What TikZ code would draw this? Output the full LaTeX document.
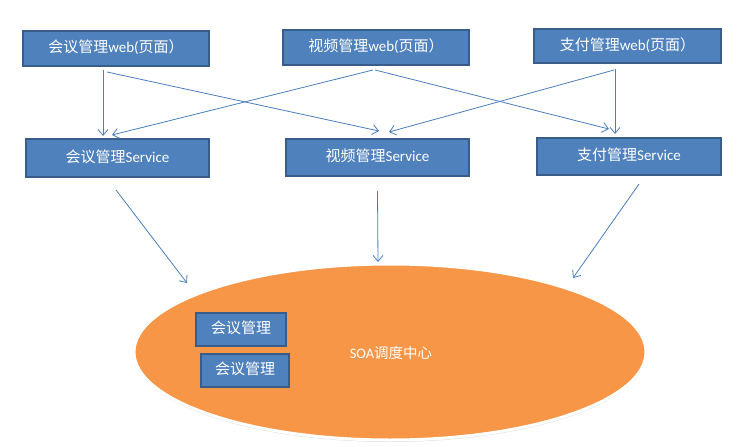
\documentclass[tikz,border=0pt]{standalone}
\usepackage{fontspec}
\setmainfont{Carlito}
\newfontfamily\cjk{Noto Sans CJK SC}
\usetikzlibrary{arrows.meta, shapes.geometric, shadows}

\definecolor{boxblue}{HTML}{4F81BD}
\definecolor{boxline}{HTML}{385D8A}
\definecolor{linkblue}{HTML}{4A7EBB}
\definecolor{soaorange}{HTML}{F79646}

\begin{document}
\begin{tikzpicture} [x=1pt, y=-1pt,
  box/.style = {draw=boxline, fill=boxblue, line width=2pt, text=white,
    font=\fontsize{15}{17}\selectfont, text height=11pt, text depth=3pt,
    inner sep=0pt},
  arr/.style = {draw=linkblue, line width=0.8pt, -{Straight Barb[length=6pt, width=10pt]}}]

\useasboundingbox (0,0) rectangle (756,447);

\node (soa) [ellipse, draw=white, line width=3pt, fill=soaorange, inner sep=0pt,
  minimum width=512pt, minimum height=176pt,
  drop shadow={shadow xshift=0pt, shadow yshift=-2pt, opacity=0.25}] at (390,352) {};
\node (soat) [text=white, font=\fontsize{14.5}{16}\selectfont] at (391,353) {SOA{\cjk 调度中心}};

% web
\node (web1) [box, minimum width=186pt, minimum height=35pt] at (116,48.5) {{\cjk 会议管理}web({\cjk 页面）}};
\node (web2) [box, minimum width=186pt, minimum height=35pt] at (376,47.5) {{\cjk 视频管理}web({\cjk 页面）}};
\node (web3) [box, minimum width=187pt, minimum height=34pt] at (627.5,46) {{\cjk 支付管理}web({\cjk 页面）}};

% service
\node (svc1) [box, minimum width=183pt, minimum height=38pt] at (117.5,158) {{\cjk 会议管理}Service};
\node (svc2) [box, minimum width=183pt, minimum height=37pt] at (377.5,157.5) {{\cjk 视频管理}Service};
\node (svc3) [box, minimum width=184pt, minimum height=37pt] at (629,156.5) {{\cjk 支付管理}Service};

% inside soa
\node (m1) [box, minimum width=90pt, minimum height=33pt] at (241,329) {\cjk 会议管理};
\node (m2) [box, minimum width=88pt, minimum height=33pt] at (245,370.5) {\cjk 会议管理};

\draw [arr] ([xshift=-13pt, yshift=-3pt]web1.south) -- ([xshift=-14.5pt, yshift=2pt]svc1.north);
\draw [arr] ([xshift=-9pt, yshift=-5pt]web1.south) -- ([xshift=1.5pt, yshift=7pt]svc2.north);
\draw [arr] ([xshift=-3pt, yshift=-4pt]web2.south) -- ([xshift=-5.5pt, yshift=3pt]svc1.north);
\draw [arr] ([xshift=-1pt, yshift=-4pt]web2.south) -- ([xshift=-20pt, yshift=8pt]svc3.north);
\draw [arr] ([xshift=-12.5pt, yshift=-5pt]web3.south) -- ([xshift=-14pt, yshift=3pt]svc3.north);
\draw [arr] ([xshift=-13.5pt, yshift=-6pt]web3.south) -- ([xshift=11.5pt, yshift=6pt]svc2.north);

% to soa
\draw [arr] ([xshift=-1.5pt, yshift=-12pt]svc1.south) -- ([xshift=-203pt, yshift=69pt]soa.center);
\draw [arr] ([yshift=-14pt]svc2.south) -- ([xshift=-12pt, yshift=90pt]soa.center);
\draw [arr] ([xshift=10pt, yshift=-8pt]svc3.south) -- ([xshift=183pt, yshift=74pt]soa.center);

\end{tikzpicture}
\end{document}
